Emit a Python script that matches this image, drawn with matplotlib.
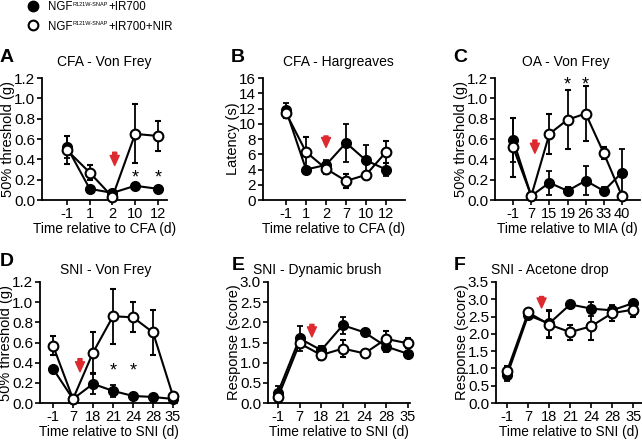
import matplotlib
matplotlib.use('Agg')
import matplotlib.pyplot as plt

plt.rcParams['font.family'] = ['Liberation Sans', 'DejaVu Sans']

RED = '#dc2a2e'

# A: CFA - Von Frey
a_days = ['-1', '1', '2', '10', '12']
a_fill = [0.52, 0.11, 0.07, 0.14, 0.11]
a_fill_err = [0.11, 0.02, 0.02, 0.03, 0.02]
a_open = [0.49, 0.27, 0.03, 0.65, 0.63]
a_open_err = [0.14, 0.07, 0.02, 0.29, 0.15]
a_stars = ['10', '12']

# B: CFA - Hargreaves
b_days = ['-1', '1', '2', '7', '10', '12']
b_fill = [11.8, 4.0, 4.6, 7.5, 5.2, 4.0]
b_fill_err = [0.9, 0.3, 0.6, 2.5, 2.0, 0.9]
b_open = [11.4, 6.3, 4.1, 2.5, 3.3, 6.3]
b_open_err = [0.7, 2.0, 0.7, 0.9, 0.3, 1.5]

# C: OA - Von Frey
c_days = ['-1', '7', '15', '19', '26', '33', '40']
c_fill = [0.59, 0.04, 0.17, 0.09, 0.19, 0.09, 0.27]
c_fill_err = [0.22, 0.01, 0.12, 0.04, 0.14, 0.04, 0.23]
c_open = [0.52, 0.04, 0.65, 0.79, 0.85, 0.46, 0.04]
c_open_err = [0.29, 0.01, 0.20, 0.29, 0.27, 0.06, 0.01]
c_stars = ['19', '26']

# D: SNI - Von Frey
d_days = ['-1', '7', '18', '21', '24', '28', '35']
d_fill = [0.34, 0.04, 0.19, 0.12, 0.07, 0.06, 0.04]
d_fill_err = [0.02, 0.01, 0.10, 0.06, 0.02, 0.02, 0.01]
d_open = [0.57, 0.04, 0.50, 0.86, 0.85, 0.70, 0.07]
d_open_err = [0.09, 0.01, 0.20, 0.27, 0.15, 0.22, 0.02]
d_stars = ['21', '24']

# E: SNI - Dynamic brush
e_days = ['-1', '7', '18', '21', '24', '28', '35']
e_fill = [0.26, 1.60, 1.31, 1.93, 1.75, 1.40, 1.22]
e_fill_err = [0.15, 0.32, 0.10, 0.21, 0.06, 0.13, 0.06]
e_open = [0.14, 1.48, 1.19, 1.35, 1.23, 1.59, 1.48]
e_open_err = [0.12, 0.10, 0.12, 0.20, 0.06, 0.20, 0.12]

# F: SNI - Acetone drop
f_days = ['-1', '7', '18', '21', '24', '28', '35']
f_fill = [0.81, 2.54, 2.30, 2.85, 2.73, 2.68, 2.89]
f_fill_err = [0.17, 0.05, 0.40, 0.06, 0.20, 0.15, 0.06]
f_open = [0.93, 2.62, 2.27, 2.05, 2.22, 2.60, 2.70]
f_open_err = [0.15, 0.05, 0.40, 0.22, 0.40, 0.22, 0.20]

panels = [
    dict(title='CFA - Von Frey', days=a_days, fill=a_fill, fe=a_fill_err,
         opn=a_open, oe=a_open_err, stars=a_stars, star_y=0.22,
         ylabel='50% threshold (g)', xlabel='Time relative to CFA (d)',
         ylim=1.2, ystep=0.2, yfmt='%.1f', ax_x=2.1, arrow=(0.34, 0.47),
         rect=[0.0654, 0.5475, 0.1947, 0.276], xlim=(-1.1, 4.4), tx=0.5, ty=1.13),
    dict(title='CFA - Hargreaves', days=b_days, fill=b_fill, fe=b_fill_err,
         opn=b_open, oe=b_open_err, stars=[], star_y=0,
         ylabel='Latency (s)', xlabel='Time relative to CFA (d)',
         ylim=16, ystep=2, yfmt='%d', ax_x=2.0, arrow=(6.9, 8.4),
         rect=[0.4097, 0.5475, 0.2212, 0.276], xlim=(-1.15, 5.95), tx=0.53, ty=1.13),
    dict(title='OA - Von Frey', days=c_days, fill=c_fill, fe=c_fill_err,
         opn=c_open, oe=c_open_err, stars=c_stars, star_y=1.13,
         ylabel='50% threshold (g)', xlabel='Time relative to MIA (d)',
         ylim=1.2, ystep=0.2, yfmt='%.1f', ax_x=1.2, arrow=(0.46, 0.59),
         rect=[0.771, 0.5475, 0.226, 0.276], xlim=(-1.0, 7.0), tx=0.49, ty=1.13),
    dict(title='SNI - Von Frey', days=d_days, fill=d_fill, fe=d_fill_err,
         opn=d_open, oe=d_open_err, stars=d_stars, star_y=0.32,
         ylabel='50% threshold (g)', xlabel='Time relative to SNI (d)',
         ylim=1.2, ystep=0.2, yfmt='%.1f', ax_x=1.35, arrow=(0.31, 0.44),
         rect=[0.0623, 0.0882, 0.2134, 0.2738], xlim=(-0.65, 6.2), tx=0.48, ty=1.10),
    dict(title='SNI - Dynamic brush', days=e_days, fill=e_fill, fe=e_fill_err,
         opn=e_open, oe=e_open_err, stars=[], star_y=0,
         ylabel='Response (score)', xlabel='Time relative to SNI (d)',
         ylim=3.0, ystep=0.5, yfmt='%.1f', ax_x=1.57, arrow=(1.64, 1.95),
         rect=[0.4174, 0.0882, 0.2212, 0.2738], xlim=(-0.46, 6.1), tx=0.35, ty=1.10),
    dict(title='SNI - Acetone drop', days=f_days, fill=f_fill, fe=f_fill_err,
         opn=f_open, oe=f_open_err, stars=[], star_y=0,
         ylabel='Response (score)', xlabel='Time relative to SNI (d)',
         ylim=3.5, ystep=0.5, yfmt='%.1f', ax_x=1.64, arrow=(2.75, 3.08),
         rect=[0.7726, 0.0882, 0.2274, 0.2738], xlim=(-0.53, 6.42), tx=0.37, ty=1.10),
]

fig = plt.figure(figsize=(6.42, 4.42), dpi=100)

for p in panels:
    ax = fig.add_axes(p['rect'])
    x = list(range(len(p['days'])))
    ax.errorbar(x, p['fill'], yerr=p['fe'], color='black', lw=1.5, elinewidth=1.3,
                capsize=2.5, capthick=1.3, marker='o', ms=7, mfc='black', mec='black',
                zorder=3, clip_on=False)
    ax.errorbar(x, p['opn'], yerr=p['oe'], color='black', lw=1.5, elinewidth=1.3,
                capsize=2.5, capthick=1.3, marker='o', ms=7, mfc='white', mec='black',
                mew=1.5, zorder=4, clip_on=False)
    for s in p['stars']:
        ax.text(p['days'].index(s), p['star_y'], '*', ha='center', va='center', fontsize=13)
    tip, top = p['arrow']
    ax.annotate('', xy=(p['ax_x'], tip), xytext=(p['ax_x'], top),
                arrowprops=dict(arrowstyle='simple,head_length=1.1,head_width=1.0,tail_width=0.45',
                                color=RED, shrinkA=0, shrinkB=0, mutation_scale=6.5))
    ax.set_xlim(*p['xlim'])
    ax.set_ylim(0, p['ylim'])
    n = int(round(p['ylim'] / p['ystep']))
    yt = [i * p['ystep'] for i in range(n + 1)]
    ax.set_yticks(yt)
    ax.set_yticklabels([p['yfmt'] % v for v in yt], fontsize=11)
    ax.set_xticks(x)
    ax.set_xticklabels(p['days'], fontsize=10.5)
    ax.spines['top'].set_visible(False)
    ax.spines['right'].set_visible(False)
    ax.spines['left'].set_linewidth(1.3)
    ax.spines['bottom'].set_linewidth(1.3)
    ax.tick_params(direction='out', length=3.5, width=1.2, pad=1.5)
    ax.set_ylabel(p['ylabel'], fontsize=10.5, labelpad=-0.5)
    ax.set_xlabel(p['xlabel'], fontsize=9.8, labelpad=1)
    ax.text(p['tx'], p['ty'], p['title'], transform=ax.transAxes, ha='center',
            va='center', fontsize=10)

# panel letters
letters = [('A', 7, 57), ('B', 238, 57), ('C', 460, 57),
           ('D', 7, 262), ('E', 238, 266), ('F', 460, 265)]
for l, px, py in letters:
    fig.text(px / 642, 1 - py / 442, l, ha='center', va='center',
             fontsize=14, fontweight='bold')

# legend drawn by hand: marker, "NGF", tiny superscript, suffix
lax = fig.add_axes([0, 0, 1, 1], zorder=5)
lax.set_xlim(0, 1)
lax.set_ylim(0, 1)
lax.axis('off')
legend_rows = [('black', '+IR700', 1 - 6 / 442), ('white', '+IR700+NIR', 1 - 25 / 442)]
for fc, suf, ry in legend_rows:
    lax.plot([33 / 642], [ry], ls='none', marker='o', ms=7, mfc=fc, mec='black', mew=1.5)
    t = lax.text(48 / 642, ry, 'NGF', ha='left', va='center_baseline', fontsize=8.3)
    sup = lax.annotate('R121W-SNAP', xy=(1, 0.95), xycoords=t, ha='left', va='top',
                       fontsize=4.0, xytext=(0.3, 0), textcoords='offset points')
    # suffix after the superscript, on the same baseline as "NGF"
    lax.annotate(suf, xy=(1, 0), xycoords=(sup, t), ha='left', va='bottom',
                 fontsize=8.3, xytext=(0.3, 0), textcoords='offset points')

fig.savefig('out.png', dpi=100)
